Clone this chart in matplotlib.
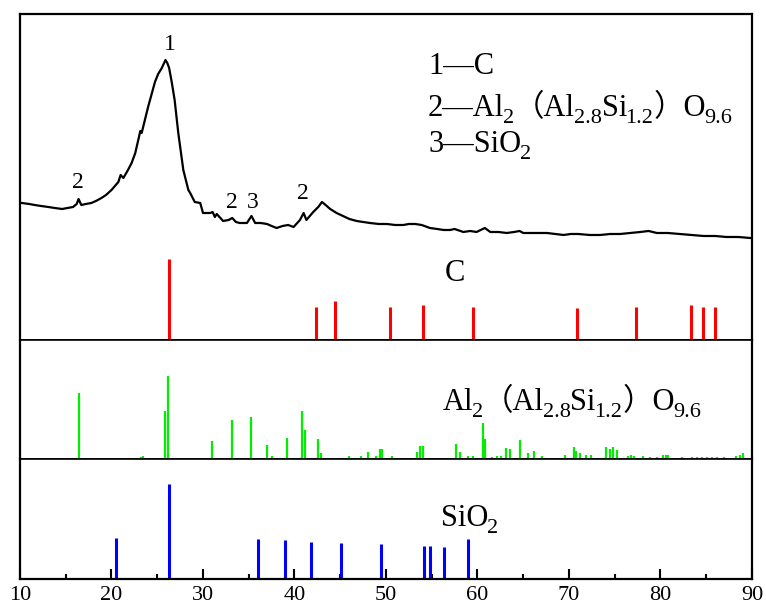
import matplotlib
matplotlib.use('Agg')
import matplotlib.pyplot as plt
from matplotlib.ticker import MultipleLocator

FAM = ['Liberation Serif', 'Noto Sans CJK SC']
plt.rcParams['font.family'] = FAM

# measured pattern (2theta, intensity a.u.)
curve_x = [10.2, 11.0, 11.6, 12.3, 13.1, 13.8, 14.6, 15.2, 15.8, 16.2, 16.4, 16.7, 17.2, 17.8,
           18.3, 18.9, 19.4, 20.0, 20.75, 21.0, 21.3, 21.8, 22.2, 22.6, 23.0, 23.15, 23.3,
           24.0, 24.75, 25.1, 25.5, 25.9, 26.1, 26.3, 26.6, 26.9, 27.3, 27.85, 28.4, 28.6,
           29.1, 29.7, 30.0, 30.8, 31.05, 31.3, 31.5, 32.2, 32.8, 33.2, 33.6, 34.0, 34.8,
           35.3, 35.7, 36.3, 37.0, 37.5, 38.05, 38.7, 39.3, 39.9, 40.6, 41.0, 41.3, 42.05,
           42.6, 43.0, 43.4, 43.9, 44.6, 45.3, 46.0, 46.8, 47.5, 48.25, 49.2, 50.1, 51.0,
           51.9, 52.5, 53.2, 53.9, 54.8, 55.6, 56.3, 57.0, 57.5, 58.45, 59.2, 59.9, 60.8,
           61.4, 62.3, 63.2, 64.0, 64.6, 65.0, 66.3, 67.6, 68.5, 69.4, 70.2, 71.0, 72.3,
           73.4, 74.5, 75.6, 76.7, 77.8, 78.7, 79.6, 80.8, 82.1, 83.4, 84.7, 86.0, 87.2,
           88.5, 89.8]
curve_y = [137, 136, 135, 134, 133, 132, 131, 132, 133, 136, 141, 135, 136, 137,
           139, 142, 145, 150, 158, 165, 162, 170, 177, 187, 203, 209, 207,
           233, 258, 266, 272, 280, 277, 272, 257, 240, 207, 170, 150, 147,
           138, 137, 127, 127, 128, 123, 126, 119, 120, 122, 118, 117, 117,
           124, 117, 117, 116, 114, 112, 114, 115, 113, 120, 127, 120, 128,
           133, 138, 135, 131, 127, 124, 121, 119, 118, 117, 116, 116, 115,
           115, 116, 116, 115, 112, 111, 110, 110, 111, 108, 109, 108, 112,
           108, 108, 107, 108, 109, 107, 107, 107, 106, 105, 106, 106, 105,
           105, 106, 106, 107, 108, 109, 107, 107, 106, 105, 104, 104, 103,
           103, 102]

c_pos = [26.3, 42.3, 44.4, 50.4, 54.0, 59.5, 70.9, 77.3, 83.3, 84.6, 86.0]
c_int = [81, 33, 39, 33, 35, 33, 32, 33, 35, 33, 33]

mul_pos = [16.4, 23.2, 23.4, 25.9, 26.2, 31.0, 33.2, 35.2, 37.0, 37.5, 39.2, 40.85, 41.1,
           42.6, 42.9, 46.0, 47.3, 48.0, 48.9, 49.3, 49.6, 50.7, 53.4, 53.7, 54.0, 57.65,
           58.1, 59.0, 59.5, 60.6, 60.8, 61.6, 62.1, 62.6, 63.1, 63.5, 64.6, 65.5, 66.2,
           67.1, 69.6, 70.5, 70.8, 71.2, 71.9, 72.4, 74.1, 74.5, 74.8, 75.2, 76.4, 76.8,
           77.1, 78.1, 78.85, 79.6, 80.3, 80.55, 80.8, 82.3, 83.4, 84.0, 84.5, 85.1, 85.6,
           86.2, 86.9, 88.3, 88.7, 89.0]
mul_int = [66, 2, 3, 48, 83, 18, 39, 42, 14, 3, 21, 48, 29,
           20, 6, 3, 3, 7, 3, 10, 10, 3, 7, 13, 13, 15,
           7, 3, 3, 36, 20, 2, 3, 3, 11, 10, 19, 6, 8,
           3, 4, 12, 8, 6, 4, 4, 12, 10, 12, 9, 3, 4,
           3, 3, 2, 2, 4, 4, 4, 2, 2, 2, 2, 2, 2,
           2, 2, 3, 4, 6]

sio2_pos = [20.5, 26.3, 36.0, 39.0, 41.8, 45.05, 49.45, 54.1, 54.8, 56.3, 59.0]
sio2_int = [41, 95, 40, 39, 37, 36, 35, 33, 33, 32, 40]

FS = 22
SUB = 16


def formula(ax, x, y, parts):
    # chain text pieces so subscripts and CJK brackets sit on one baseline
    prev = ax.text(x, y, parts[0][0], fontsize=FS, va='baseline', ha='left', family=FAM)
    for s, sub in parts[1:]:
        off = (-1.0, -5) if sub else (0, 0)
        prev = ax.annotate(s, xy=(1, y), xycoords=(prev, ax.transData),
                           xytext=off, textcoords='offset points',
                           fontsize=SUB if sub else FS,
                           va='baseline', ha='left', family=FAM)


def main():
    fig, axes = plt.subplots(3, 1, figsize=(7.66, 6.11), dpi=100, sharex=True,
                             gridspec_kw={'height_ratios': [326, 119, 120], 'hspace': 0})
    fig.subplots_adjust(left=0.0261, right=0.9817, top=0.9771, bottom=0.0524)
    ax1, ax2, ax3 = axes

    ax1.plot(curve_x, curve_y, color='black', lw=1.6)
    ax1.vlines(c_pos, 0, c_int, color='#ff0000', lw=2.2)
    ax1.set_ylim(0, 326)
    ax2.vlines(mul_pos, 0, mul_int, color='#00ee00', lw=1.6)
    ax2.set_ylim(0, 119)
    ax3.vlines(sio2_pos, 0, sio2_int, color='#0000ff', lw=2.2)
    ax3.set_ylim(0, 120)

    for ax in axes:
        ax.set_xlim(10, 90)
        for sp in ax.spines.values():
            sp.set_linewidth(1.6)
        ax.tick_params(left=False, labelleft=False)
    ax1.spines['bottom'].set_linewidth(1.2)
    ax2.spines['top'].set_linewidth(1.2)
    ax2.spines['bottom'].set_linewidth(1.2)
    ax3.spines['top'].set_linewidth(1.2)
    ax1.tick_params(bottom=False)
    ax2.tick_params(bottom=False)

    ax3.xaxis.set_major_locator(MultipleLocator(10))
    ax3.xaxis.set_minor_locator(MultipleLocator(5))
    ax3.tick_params(which='major', direction='in', length=7, width=1.5, labelsize=16, pad=5)
    ax3.tick_params(which='minor', direction='in', length=3.5, width=1.5)

    # peak labels
    for px, py, s in [(26.4, 290, '1'), (16.3, 152, '2'), (33.2, 132, '2'),
                      (35.4, 132, '3'), (40.9, 141, '2')]:
        ax1.text(px, py, s, fontsize=17, ha='center', va='baseline')

    formula(ax1, 54.6, 266, [('1—C', False)])
    formula(ax1, 54.6, 224, [('2—Al', False), ('2', True), ('（Al', False), ('2.8', True),
                             ('Si', False), ('1.2', True), ('）O', False), ('9.6', True)])
    formula(ax1, 54.6, 188, [('3—SiO', False), ('2', True)])

    ax1.text(56.45, 59, 'C', fontsize=FS, ha='left', va='baseline')
    formula(ax2, 56.2, 49, [('Al', False), ('2', True), ('（Al', False), ('2.8', True),
                            ('Si', False), ('1.2', True), ('）O', False), ('9.6', True)])
    formula(ax3, 56.0, 53, [('SiO', False), ('2', True)])

    fig.savefig('out.png', dpi=100)


if __name__ == '__main__':
    main()
